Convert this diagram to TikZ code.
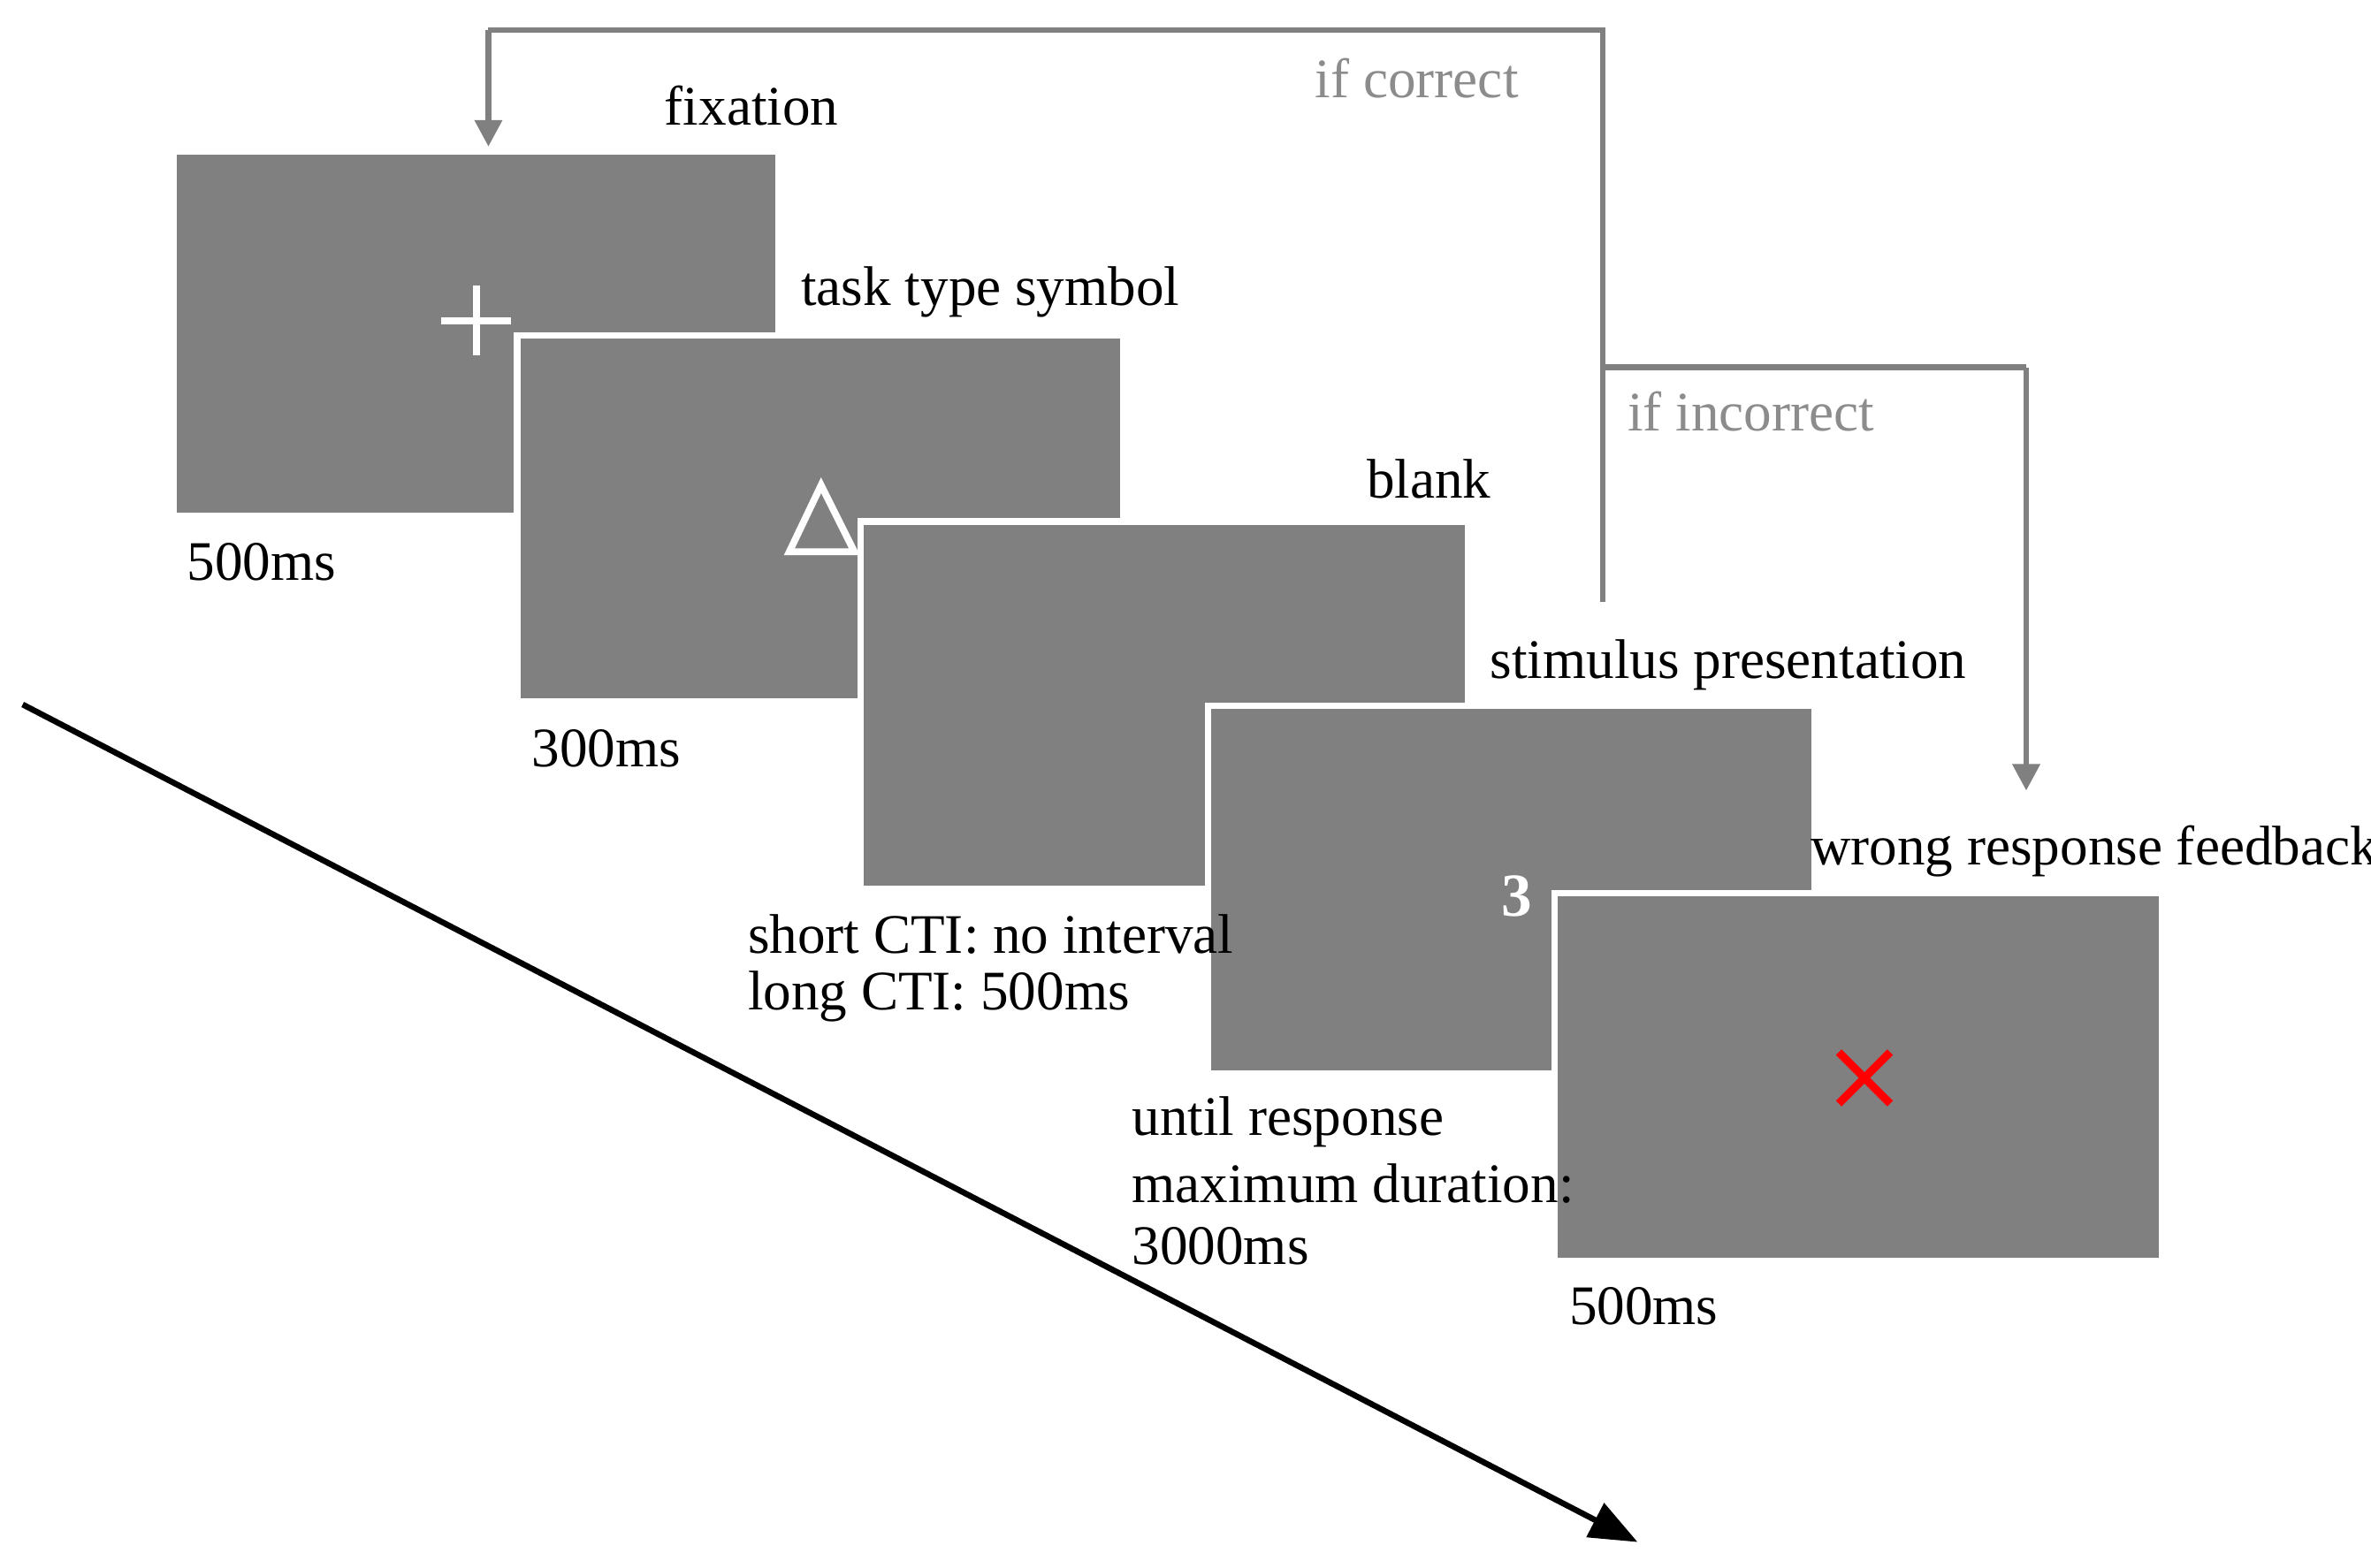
\documentclass[tikz,border=0pt]{standalone}
\usepackage{fontspec}
\setmainfont{Liberation Serif}
\usetikzlibrary{arrows.meta}
\begin{document}
\begin{tikzpicture}[x=0.01cm,y=-0.01cm,
  scr/.style={fill=black!50,draw=white,line width=1.2pt},
  lbl/.style={font=\fontsize{10.5pt}{12.5pt}\selectfont,inner sep=0pt},
  glbl/.style={lbl,text=black!45},
  flow/.style={draw=black!50,line width=1.1pt,-{Triangle[length=5pt,width=5pt]}},
  glyph/.style={draw=white,line width=1.3pt}]
\useasboundingbox (0,0) rectangle (1568,1037);
\coordinate (c1) at (1060,398); \coordinate (c2) at (1060,20); \coordinate (c3) at (323,20); \coordinate (c4) at (323,97);
\coordinate (d1) at (1060,243); \coordinate (d2) at (1340,243); \coordinate (d3) at (1340,523);
\draw[line width=1.1pt,draw=black!50] (c1)--(c2)--(c3);
\draw[flow] (c3)--(c4);
\draw[line width=1.1pt,draw=black!50] (d1)--(d2);
\draw[flow] (d2)--(d3);
\node[glbl] (ic) at (937,52) {if correct};
\node[glbl] (ii) at (1158,272) {if incorrect};
\coordinate (t0) at (15,466); \coordinate (t1) at (1083,1020);
\draw[line width=1.1pt,-{Triangle[length=9pt,width=7pt]}] (t0)--(t1);
\path[scr] (115,100) rectangle (515,341);
\draw[glyph] (292,212)--(338,212) (315,189)--(315,235);
\path[scr] (342,222) rectangle (743,464);
\draw[glyph] (543,321)--(522,365)--(565,365)--cycle;
\path[scr] (569,345) rectangle (971,588);
\path[scr] (799,467) rectangle (1200,710);
\node[lbl,text=white,font=\bfseries\fontsize{11.5pt}{13pt}\selectfont] (three) at (1003,593) {3};
\path[scr] (1028,591) rectangle (1430,834);
\draw[red,line width=1.5pt] (1216,696)--(1250,730) (1216,730)--(1250,696);
\node[lbl] (fix) at (497,70) {fixation};
\node[lbl] (f5) at (173,372) {500ms};
\node[lbl] (tts) at (655,193) {task type symbol};
\node[lbl] (t3) at (401,495) {300ms};
\node[lbl] (bl) at (945,317) {blank};
\node[lbl,anchor=west] (s1) at (494,618) {short CTI: no interval};
\node[lbl,anchor=west] (s2) at (494,659) {long CTI: 500ms};
\node[lbl] (sp) at (1143,440) {stimulus presentation};
\node[lbl,anchor=west] (u1) at (748,742) {until response};
\node[lbl,anchor=west] (u2) at (748,783) {maximum duration:};
\node[lbl,anchor=west] (u3) at (748,824) {3000ms};
\node[lbl] (wr) at (1385,563) {wrong response feedback};
\node[lbl] (w5) at (1087,864) {500ms};
\end{tikzpicture}
\end{document}
